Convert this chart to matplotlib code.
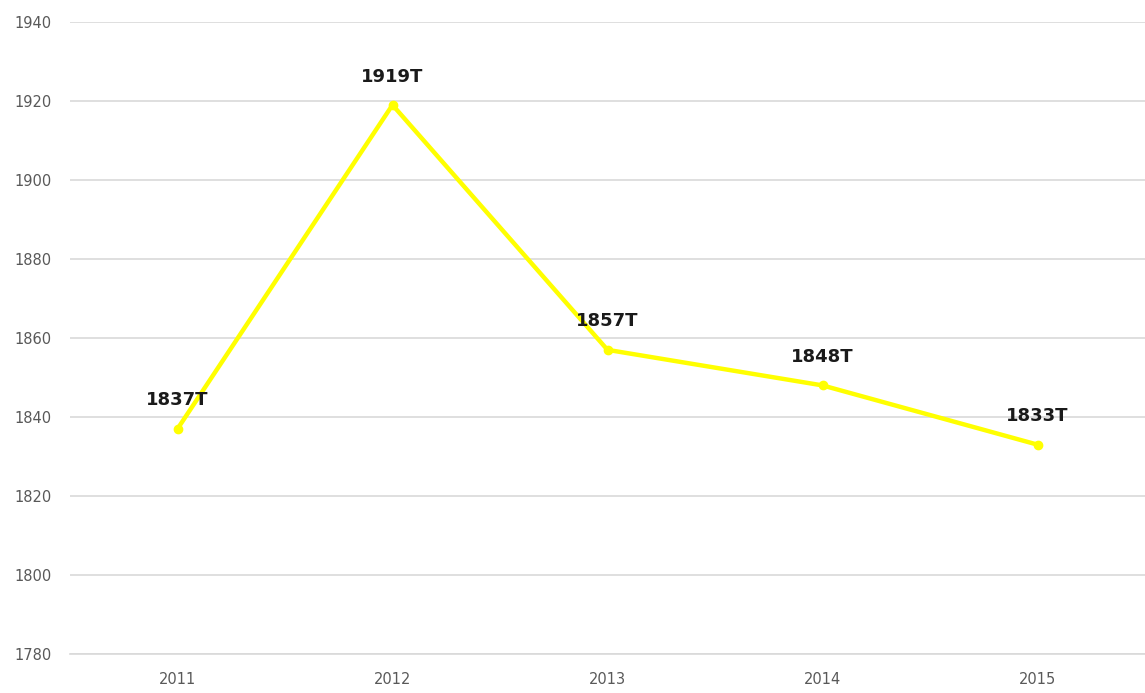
import matplotlib
matplotlib.use("Agg")
import matplotlib.pyplot as plt

years = ["2011", "2012", "2013", "2014", "2015"]
values = [1837, 1919, 1857, 1848, 1833]
labels = ["1837T", "1919T", "1857T", "1848T", "1833T"]
yticks = [1780, 1800, 1820, 1840, 1860, 1880, 1900, 1920, 1940]

fig = plt.figure(figsize=(11.45, 6.93), dpi=100)
ax = fig.add_axes([70/1145, 1 - 654/693, 1 - 70/1145, (654 - 22)/693])

x = list(range(len(years)))
ax.plot(x, values, color="#FFFF00", linewidth=3.2, marker="o", markersize=6,
        solid_joinstyle="round", zorder=3)

for xi, v, lab in zip(x, values, labels):
    ax.annotate(lab, (xi, v), xytext=(0, 14), textcoords="offset points",
                ha="center", va="bottom", fontsize=13, fontweight="bold",
                color="#1a1a1a", zorder=4)

ax.set_xlim(-0.5, len(years) - 0.5)
ax.set_ylim(1780, 1940)
ax.set_yticks(yticks)
ax.set_xticks(x)
ax.set_xticklabels(years)
ax.yaxis.grid(True, color="#d9d9d9", linewidth=1.2)
ax.set_axisbelow(True)
for s in ["top", "right", "left"]:
    ax.spines[s].set_visible(False)
ax.spines["bottom"].set_color("#d9d9d9")
ax.spines["bottom"].set_linewidth(1.2)
ax.tick_params(axis="both", length=0, labelsize=10.5, labelcolor="#595959")
ax.tick_params(axis="y", pad=13)
ax.tick_params(axis="x", pad=13)

fig.savefig("out.png", dpi=100)
